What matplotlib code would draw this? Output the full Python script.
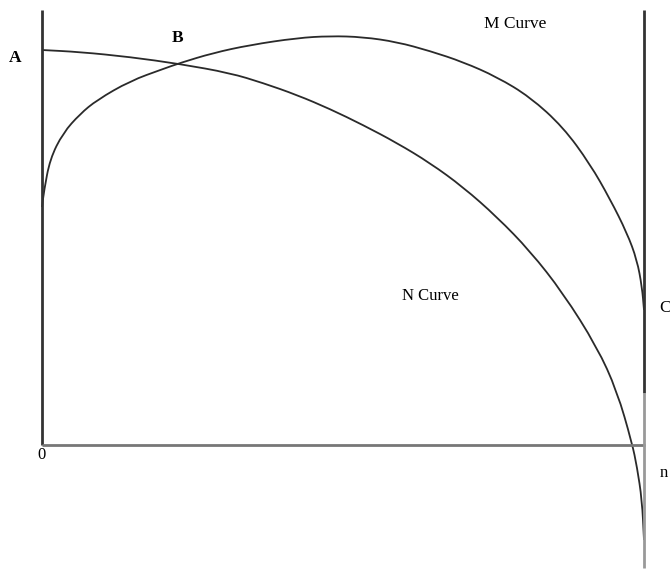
import matplotlib
matplotlib.use("Agg")
import matplotlib.pyplot as plt
from matplotlib.path import Path
from matplotlib.patches import PathPatch

# Curve data (chart units, origin at the "0" corner)
m_x = [0, 2, 8, 21, 38, 55, 88, 121, 138, 171, 208, 255, 288, 321, 355,
       388, 421, 455, 488, 521, 548, 568, 585, 595, 600, 602]
m_y = [238, 254, 286, 312, 331, 345, 364, 376, 382, 392, 400, 407, 409,
       408, 403, 394, 383, 368, 348, 318, 281, 246, 212, 185, 158, 135]

n_x = [0, 38, 88, 138, 188, 221, 255, 288, 321, 355, 388, 421, 455, 488, 521,
       555, 575, 590, 595, 600, 602]
n_y = [395, 393, 388, 381, 372, 362, 350, 336, 320, 302, 282, 258, 228, 194,
       152, 98, 54, 2, -22, -55, -95]

x_max = 602
y_top = 435
y_bottom = -123
y_split = 52

labels = {
    "A": (-27, 387),
    "B": (136, 407),
    "M Curve": (473, 421),
    "N Curve": (388, 149),
}


def smooth_path(xs, ys):
    """Quadratic B-spline style path through the read points (drawn by matplotlib)."""
    pts = list(zip(xs, ys))
    verts = [pts[0]]
    codes = [Path.MOVETO]
    mids = [((pts[i][0] + pts[i + 1][0]) / 2, (pts[i][1] + pts[i + 1][1]) / 2)
            for i in range(len(pts) - 1)]
    verts.append(mids[0])
    codes.append(Path.LINETO)
    for i in range(1, len(pts) - 1):
        verts += [pts[i], mids[i]]
        codes += [Path.CURVE3, Path.CURVE3]
    verts.append(pts[-1])
    codes.append(Path.LINETO)
    return Path(verts, codes)


fig = plt.figure(figsize=(6.7, 5.69), dpi=100)
ax = fig.add_axes([0, 0, 1, 1])
ax.set_xlim(-42, 628)
ax.set_ylim(-124, 445)
ax.axis("off")

# axes lines
ax.plot([0, 0], [0, y_top], color="#333333", lw=2, solid_capstyle="butt")
ax.plot([0, x_max + 1], [0, 0], color="#777777", lw=2, solid_capstyle="butt")
ax.plot([x_max, x_max], [y_split, y_top], color="#333333", lw=2, solid_capstyle="butt")
ax.plot([x_max, x_max], [y_bottom, y_split], color="#999999", lw=2, solid_capstyle="butt")

# curves
for xs, ys in ((m_x, m_y), (n_x, n_y)):
    ax.add_patch(PathPatch(smooth_path(xs, ys), facecolor="none",
                           edgecolor="#2a2a2a", lw=1.3))

fam = "Liberation Serif"
ax.text(*labels["A"], "A", ha="center", va="center", fontsize=12.5, fontweight="bold", family=fam)
ax.text(*labels["B"], "B", ha="center", va="center", fontsize=12.5, fontweight="bold", family=fam)
ax.text(*labels["M Curve"], "M Curve", ha="center", va="center", fontsize=12.5, family=fam)
ax.text(*labels["N Curve"], "N Curve", ha="center", va="center", fontsize=12, family=fam)
ax.text(617, 137, "C", ha="left", va="center", fontsize=12.5, family=fam)
ax.text(0, -10, "0", ha="center", va="center", fontsize=12, family=fam)
ax.text(618, -28, "n", ha="left", va="center", fontsize=12, family=fam)

fig.savefig("out.png", dpi=100)
